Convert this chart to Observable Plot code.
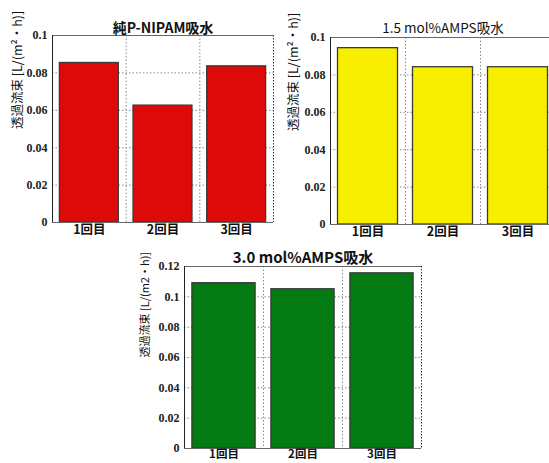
<!DOCTYPE html>
<html>
<head>
<meta charset="utf-8">
<script src="https://cdn.jsdelivr.net/npm/d3@7"></script>
<script src="https://cdn.jsdelivr.net/npm/@observablehq/plot@0.6"></script>
<style>
  html, body { margin: 0; padding: 0; background: #fff; }
  #root { position: relative; width: 549px; height: 463px; overflow: hidden; background: #fff; }
  .panel { position: absolute; }
  .panel svg { overflow: visible; background: transparent; max-width: none !important; }
</style>
</head>
<body>
<div id="root">
  <div class="panel" id="p1" style="left:0px;top:0px;width:280px"></div>
  <div class="panel" id="p2" style="left:275px;top:0px;width:290px"></div>
  <div class="panel" id="p3" style="left:120px;top:235px;width:310px"></div>
</div>
<script>
const categories = ["1回目", "2回目", "3回目"];
const pureValues = [0.0853, 0.0625, 0.0835];
const amps15Values = [0.0943, 0.0841, 0.0841];
const amps30Values = [0.109, 0.105, 0.1155];
const yTicksA = [0, 0.02, 0.04, 0.06, 0.08, 0.1];
const yTicksB = [0, 0.02, 0.04, 0.06, 0.08, 0.1, 0.12];
const titles = ["純P-NIPAM吸水", "1.5 mol%AMPS吸水", "3.0 mol%AMPS吸水"];
const yLabels = ["透過流束 [L/(m²・h)]", "透過流束 [L/(m²・h)]", "透過流束 [L/(m2・h)]"];

const SANS = "'Noto Sans CJK JP', 'Noto Sans', sans-serif";
const SERIF = "'Liberation Serif', 'DejaVu Serif', serif";

function makeChart(o) {
  const data = categories.map((c, i) => ({cat: c, idx: i + 1, v: o.values[i]}));
  const yMax = o.ticks[o.ticks.length - 1];
  return Plot.plot({
    width: o.width, height: o.height,
    marginLeft: o.ml, marginRight: o.mr, marginTop: o.mt, marginBottom: o.mb,
    style: {background: "transparent", overflow: "visible", maxWidth: "none"},
    x: {domain: [0.5, 3.5]},
    y: {domain: [0, yMax]},
    marks: [
      Plot.ruleY(o.ticks.slice(1, -1), {stroke: "#888", strokeDasharray: "1.5,2", strokeWidth: 1}),
      Plot.ruleX([1.5, 2.5], {stroke: "#888", strokeDasharray: "1.5,2", strokeWidth: 1}),
      Plot.rectY(data, {x1: d => d.idx - 0.4, x2: d => d.idx + 0.4, y: "v", fill: o.color, stroke: "#3a3a3a", strokeWidth: 1.3}),
      Plot.ruleY([0], {stroke: "#666", strokeWidth: 1}),
      Plot.ruleY([yMax], {stroke: "#666", strokeWidth: 1}),
      Plot.ruleX([0.5], {stroke: "#222", strokeWidth: 1}),
      Plot.ruleX([3.5], {stroke: "#333", strokeDasharray: "1.5,1.5", strokeWidth: 1}),
      Plot.axisY(o.ticks, {tickSize: 0, tickPadding: 5, tickFormat: d => String(d), label: null,
        fontFamily: SERIF, fontSize: 12, fontWeight: "bold", fill: "#222"}),
      Plot.axisX([1, 2, 3], {tickSize: 0, tickPadding: o.xPad, tickFormat: d => categories[d - 1], label: null,
        fontFamily: SANS, fontSize: o.xSize, fontWeight: "bold", fill: "#111"}),
      Plot.text([o.ylabel], {frameAnchor: "left", dx: -o.ylOff, rotate: -90, text: d => d,
        fontFamily: SANS, fontSize: o.ylSize, fill: "#111"}),
      Plot.text([o.title], {frameAnchor: "top", dy: o.titleDy, text: d => d,
        fontFamily: SANS, fontSize: o.titleSize, fontWeight: o.titleWeight, fill: "#111"})
    ]
  });
}

document.getElementById("p1").append(makeChart({
  values: pureValues, color: "#dd0a0a", ticks: yTicksA, ylabel: yLabels[0], title: titles[0],
  width: 280, height: 240, ml: 52, mr: 7, mt: 35, mb: 18, ylOff: 35, ylSize: 12.5,
  titleDy: -12.5, titleSize: 14, titleWeight: "bold", xPad: 3, xSize: 12.5
}));
document.getElementById("p2").append(makeChart({
  values: amps15Values, color: "#f8ef00", ticks: yTicksA, ylabel: yLabels[1], title: titles[1],
  width: 290, height: 240, ml: 55, mr: 10, mt: 37, mb: 16, ylOff: 37, ylSize: 12.5,
  titleDy: -14, titleSize: 13.5, titleWeight: "normal", xPad: 3, xSize: 12.5
}));
document.getElementById("p3").append(makeChart({
  values: amps30Values, color: "#047b12", ticks: yTicksB, ylabel: yLabels[2], title: titles[2],
  width: 310, height: 228, ml: 64, mr: 9, mt: 31, mb: 15, ylOff: 39, ylSize: 11,
  titleDy: -14, titleSize: 15, titleWeight: "bold", xPad: 1, xSize: 11.5
}));
</script>
</body>
</html>
